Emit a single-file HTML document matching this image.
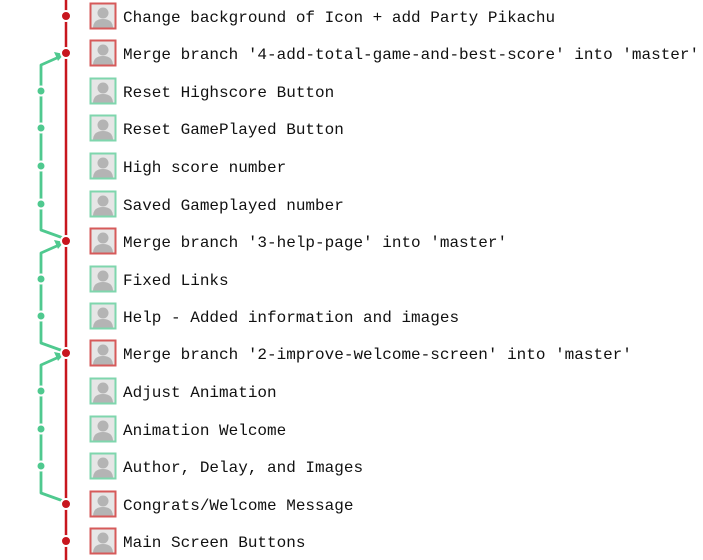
<!DOCTYPE html>
<html><head><meta charset="utf-8"><style>
html,body{margin:0;padding:0;background:#fff;width:703px;height:560px;overflow:hidden}
text{font-family:"Liberation Mono",monospace;font-size:16px;fill:#111}
</style></head><body>
<svg width="703" height="560" viewBox="0 0 703 560" xmlns="http://www.w3.org/2000/svg">
<defs>
<g id="av">
<rect x="-12.5" y="-12.5" width="25" height="25" fill="#e6e6e6"/>
<circle cx="0" cy="-3" r="5.5" fill="#b4b4b4"/>
<path d="M-10 12.5 Q-10 3 0 3 Q10 3 10 12.5 Z" fill="#b4b4b4"/>
</g>
</defs>
<line x1="66" y1="0" x2="66" y2="560" stroke="#c8161e" stroke-width="2.5"/>
<g fill="none" stroke="#4fc98f" stroke-width="2.8" stroke-linejoin="round">
<polyline points="59,57 41,65 41,230 66,239"/>
<polyline points="59,245 41,253 41,343 66,352"/>
<polyline points="59,357 41,365 41,493 66,502"/>
</g>
<g fill="#4fc98f">
<path d="M64,54 L54,52 L58,61 Z"/>
<path d="M64,242 L54,240 L58,249 Z"/>
<path d="M64,354 L54,352 L58,361 Z"/>
</g>
<g fill="#4fc98f" stroke="#fff" stroke-width="2">
<circle cx="41" cy="91" r="4.5"/><circle cx="41" cy="128" r="4.5"/><circle cx="41" cy="166" r="4.5"/><circle cx="41" cy="204" r="4.5"/>
<circle cx="41" cy="279" r="4.5"/><circle cx="41" cy="316" r="4.5"/>
<circle cx="41" cy="391" r="4.5"/><circle cx="41" cy="429" r="4.5"/><circle cx="41" cy="466" r="4.5"/>
</g>
<g fill="#c8161e" stroke="#fff" stroke-width="2">
<circle cx="66" cy="16" r="5"/><circle cx="66" cy="53" r="5"/><circle cx="66" cy="241" r="5"/>
<circle cx="66" cy="353" r="5"/><circle cx="66" cy="504" r="5"/><circle cx="66" cy="541" r="5"/>
</g>
<g>
<g transform="translate(103,16)"><use href="#av"/><rect x="-12.5" y="-12.5" width="25" height="25" fill="none" stroke="#d65a5a" stroke-width="2"/></g>
<g transform="translate(103,53)"><use href="#av"/><rect x="-12.5" y="-12.5" width="25" height="25" fill="none" stroke="#d65a5a" stroke-width="2"/></g>
<g transform="translate(103,91)"><use href="#av"/><rect x="-12.5" y="-12.5" width="25" height="25" fill="none" stroke="#7fd6ad" stroke-width="2"/></g>
<g transform="translate(103,128)"><use href="#av"/><rect x="-12.5" y="-12.5" width="25" height="25" fill="none" stroke="#7fd6ad" stroke-width="2"/></g>
<g transform="translate(103,166)"><use href="#av"/><rect x="-12.5" y="-12.5" width="25" height="25" fill="none" stroke="#7fd6ad" stroke-width="2"/></g>
<g transform="translate(103,204)"><use href="#av"/><rect x="-12.5" y="-12.5" width="25" height="25" fill="none" stroke="#7fd6ad" stroke-width="2"/></g>
<g transform="translate(103,241)"><use href="#av"/><rect x="-12.5" y="-12.5" width="25" height="25" fill="none" stroke="#d65a5a" stroke-width="2"/></g>
<g transform="translate(103,279)"><use href="#av"/><rect x="-12.5" y="-12.5" width="25" height="25" fill="none" stroke="#7fd6ad" stroke-width="2"/></g>
<g transform="translate(103,316)"><use href="#av"/><rect x="-12.5" y="-12.5" width="25" height="25" fill="none" stroke="#7fd6ad" stroke-width="2"/></g>
<g transform="translate(103,353)"><use href="#av"/><rect x="-12.5" y="-12.5" width="25" height="25" fill="none" stroke="#d65a5a" stroke-width="2"/></g>
<g transform="translate(103,391)"><use href="#av"/><rect x="-12.5" y="-12.5" width="25" height="25" fill="none" stroke="#7fd6ad" stroke-width="2"/></g>
<g transform="translate(103,429)"><use href="#av"/><rect x="-12.5" y="-12.5" width="25" height="25" fill="none" stroke="#7fd6ad" stroke-width="2"/></g>
<g transform="translate(103,466)"><use href="#av"/><rect x="-12.5" y="-12.5" width="25" height="25" fill="none" stroke="#7fd6ad" stroke-width="2"/></g>
<g transform="translate(103,504)"><use href="#av"/><rect x="-12.5" y="-12.5" width="25" height="25" fill="none" stroke="#d65a5a" stroke-width="2"/></g>
<g transform="translate(103,541)"><use href="#av"/><rect x="-12.5" y="-12.5" width="25" height="25" fill="none" stroke="#d65a5a" stroke-width="2"/></g>
</g>
<g>
<text x="123" y="22">Change background of Icon + add Party Pikachu</text>
<text x="123" y="59">Merge branch '4-add-total-game-and-best-score' into 'master'</text>
<text x="123" y="97">Reset Highscore Button</text>
<text x="123" y="134">Reset GamePlayed Button</text>
<text x="123" y="172">High score number</text>
<text x="123" y="210">Saved Gameplayed number</text>
<text x="123" y="247">Merge branch '3-help-page' into 'master'</text>
<text x="123" y="285">Fixed Links</text>
<text x="123" y="322">Help - Added information and images</text>
<text x="123" y="359">Merge branch '2-improve-welcome-screen' into 'master'</text>
<text x="123" y="397">Adjust Animation</text>
<text x="123" y="435">Animation Welcome</text>
<text x="123" y="472">Author, Delay, and Images</text>
<text x="123" y="510">Congrats/Welcome Message</text>
<text x="123" y="547">Main Screen Buttons</text>
</g>
</svg>
</body></html>
